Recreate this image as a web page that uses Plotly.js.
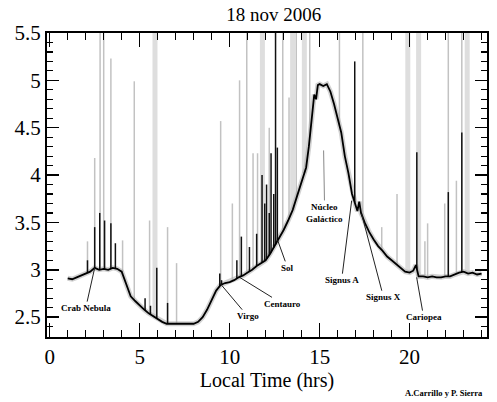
<!DOCTYPE html>
<html>
<head>
<meta charset="utf-8">
<script src="https://cdn.plot.ly/plotly-3.0.1.min.js"></script>
<style>html,body{margin:0;padding:0;background:#fff;}#chart{width:497px;height:402px;}</style>
</head>
<body>
<div id="chart"></div>
<script>
// Mean signal vs local time
const timeHrs = [1.0,1.25,1.5,1.75,2.0,2.25,2.5,2.75,3.0,3.25,3.5,3.75,4.0,4.15,4.3,4.5,4.75,5.0,5.25,5.5,5.75,6.0,6.25,6.5,6.75,7.0,7.25,7.5,7.75,8.0,8.25,8.5,8.75,9.0,9.25,9.5,9.75,10.0,10.25,10.5,10.75,11.0,11.25,11.5,11.75,12.0,12.25,12.5,12.75,13.0,13.25,13.5,13.75,14.0,14.25,14.4,14.55,14.7,14.8,14.9,15.0,15.2,15.4,15.6,15.8,16.0,16.2,16.4,16.6,16.8,17.0,17.1,17.2,17.3,17.5,17.75,18.0,18.25,18.5,18.75,19.0,19.25,19.5,19.75,20.0,20.2,20.35,20.5,20.75,21.0,21.25,21.5,21.75,22.0,22.25,22.5,22.75,23.0,23.25,23.5,23.75,24.0];
const signal  = [2.91,2.90,2.92,2.94,2.96,2.98,3.02,3.00,3.01,3.00,3.02,3.01,2.98,2.90,2.82,2.72,2.67,2.62,2.58,2.54,2.51,2.48,2.45,2.43,2.43,2.43,2.43,2.43,2.43,2.43,2.45,2.50,2.58,2.68,2.78,2.84,2.86,2.87,2.89,2.92,2.94,2.97,3.00,3.04,3.07,3.10,3.17,3.25,3.33,3.42,3.52,3.63,3.78,3.93,4.08,4.30,4.60,4.85,4.80,4.95,4.96,4.94,4.96,4.88,4.75,4.60,4.45,4.20,4.02,3.80,3.68,3.62,3.72,3.60,3.50,3.40,3.32,3.25,3.20,3.14,3.10,3.06,3.02,2.98,2.97,2.99,3.05,2.93,2.93,2.92,2.93,2.92,2.92,2.93,2.93,2.95,2.97,2.98,2.96,2.97,2.95,2.96];

// Interference spikes (time, peak value)
const graySpikeT   = [2.1,2.5,2.8,3.0,3.4,4.05,4.7,5.55,6.55,7.05,9.5,10.15,10.55,10.95,11.3,11.55,12.2,12.95,13.3,13.7,14.45,16.1,17.4,18.45,19.3,20.85,21.0,21.95,22.15,22.6,22.9];
const graySpikeTop = [3.3,4.18,5.5,5.5,5.23,3.31,4.99,3.52,3.45,3.07,4.57,3.7,5.0,5.5,4.23,4.23,4.5,5.5,4.82,5.5,5.5,5.5,5.5,3.45,3.8,3.3,3.49,3.7,5.5,3.94,5.5];
const grayBandT    = [5.85,11.82,13.5,14.15,19.9,20.5,23.2];
const grayBandTop  = [5.5,5.5,5.5,5.5,5.5,5.5,5.5];
const blackSpikeT   = [2.1,2.5,2.78,3.05,3.4,3.65,5.3,5.6,5.95,6.55,9.45,9.55,10.4,10.65,11.1,11.5,11.8,11.95,12.05,12.2,12.3,12.45,12.55,12.65,16.95,20.4,22.15,22.9];
const blackSpikeTop = [3.1,3.45,3.6,3.52,3.49,3.28,2.7,2.62,3.02,2.65,2.96,2.89,3.1,3.35,3.24,3.38,4.0,3.7,3.9,3.6,4.23,3.8,5.5,4.29,5.2,4.24,3.82,4.45];

// Source labels: text, text position (time, value), pointed position (time, value)
const labelText = ["Crab Nebula","Virgo","Centauro","Sol","Núcleo<br>Galáctico","Signus A","Signus X","Cariopea"];
const labelT    = [2.0,11.0,12.94,13.22,15.28,16.22,18.55,20.78];
const labelV    = [2.595,2.51,2.64,3.02,3.6,2.89,2.71,2.5];
const pointT    = [2.5,9.45,10.55,12.67,15.22,16.78,17.33,20.39];
const pointV    = [3.02,2.86,2.92,3.31,4.26,3.73,3.59,2.92];

function interp(t){
  for(let i=0;i<timeHrs.length-1;i++){
    if(t>=timeHrs[i] && t<=timeHrs[i+1]){
      const f=(t-timeHrs[i])/(timeHrs[i+1]-timeHrs[i]);
      return signal[i]+f*(signal[i+1]-signal[i]);
    }
  }
  return t<timeHrs[0]?signal[0]:signal[signal.length-1];
}
function spikes(ts,tops){
  const x=[],y=[];
  ts.forEach((t,i)=>{x.push(t,t,null);y.push(interp(t),tops[i],null);});
  return {x,y};
}
const gb=spikes(grayBandT,grayBandTop), gs=spikes(graySpikeT,graySpikeTop), bs=spikes(blackSpikeT,blackSpikeTop);

const traces=[
  {x:gb.x,y:gb.y,mode:'lines',line:{color:'#dedede',width:5},hoverinfo:'skip'},
  {x:gs.x,y:gs.y,mode:'lines',line:{color:'#c2c2c2',width:1.5},hoverinfo:'skip'},
  {x:timeHrs,y:signal,mode:'lines',line:{color:'rgba(165,165,165,0.5)',width:5},hoverinfo:'skip'},
  {x:bs.x,y:bs.y,mode:'lines',line:{color:'#111',width:1.5},hoverinfo:'skip'},
  {x:timeHrs,y:signal,mode:'lines',line:{color:'#000',width:1.8}}
];

const serif="'Liberation Serif', 'Times New Roman', serif";
const annotations=labelText.map((s,i)=>({
  x:pointT[i],y:pointV[i],xref:'x',yref:'y',ax:labelT[i],ay:labelV[i],axref:'x',ayref:'y',
  text:'<b>'+s+'</b>',showarrow:true,arrowhead:0,arrowwidth:1,
  arrowcolor:i===4?'#888':'#222',font:{family:serif,size:9,color:'#000'},standoff:0,startstandoff:0
}));
annotations.push({xref:'paper',yref:'paper',x:0.902,y:-0.184,xanchor:'center',yanchor:'middle',showarrow:false,
  text:'<b>A.Carrillo y P. Sierra</b>',font:{family:serif,size:8.5,color:'#000'}});

const layout={
  width:497,height:402,
  margin:{l:47,r:10,t:33,b:65},
  paper_bgcolor:'#fff',plot_bgcolor:'#fff',
  showlegend:false,
  font:{family:serif,color:'#000'},
  title:{text:'18 nov 2006',font:{family:serif,size:19,color:'#000'},x:0.551,xref:'container',xanchor:'center',y:0.965,yref:'container',yanchor:'middle'},
  xaxis:{range:[-0.15,24.3],tickvals:[0,5,10,15,20],ticks:'inside',ticklen:14,tickwidth:1.5,tickcolor:'#000',
    minor:{dtick:1,tick0:0,ticks:'inside',ticklen:7,tickwidth:1.2,tickcolor:'#000',showgrid:false},
    showline:true,linewidth:2,linecolor:'#000',mirror:'allticks',showgrid:false,zeroline:false,
    tickfont:{family:serif,size:21,color:'#000'},
    title:{text:'Local Time (hrs)',font:{family:serif,size:20,color:'#000'},standoff:2}},
  yaxis:{range:[2.29,5.5],tick0:2.5,dtick:0.5,ticks:'inside',ticklen:12,tickwidth:1.5,tickcolor:'#000',
    minor:{dtick:0.1,tick0:2.5,ticks:'inside',ticklen:6,tickwidth:1.2,tickcolor:'#000',showgrid:false},
    showline:true,linewidth:2,linecolor:'#000',mirror:'allticks',showgrid:false,zeroline:false,
    tickfont:{family:serif,size:21,color:'#000'}},
  annotations:annotations
};
Plotly.newPlot('chart',traces,layout,{staticPlot:true,displayModeBar:false});
</script>
</body>
</html>
